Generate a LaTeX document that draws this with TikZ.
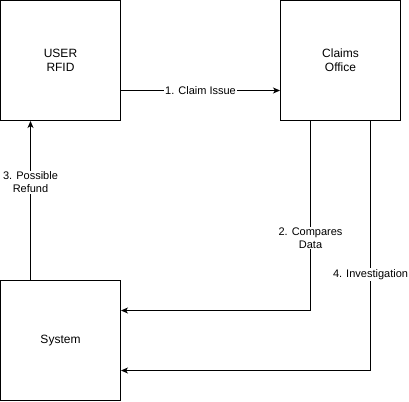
\documentclass[tikz,border=0pt]{standalone}
\usepackage{fontspec}
\setmainfont{Liberation Sans}
\usetikzlibrary{arrows.meta}
\begin{document}
\begin{tikzpicture}[x=1pt,y=-1pt,
  box/.style={draw=black,line width=1pt,minimum width=120pt,minimum height=120pt,inner sep=0pt,align=center,font=\fontsize{12}{14}\selectfont},
  conn/.style={draw=black,line width=1pt,-{Stealth[length=7pt,width=6pt,inset=2pt]}},
  lbl/.style={fill=white,inner sep=1pt,align=center,font=\fontsize{11}{12.5}\selectfont}]
\useasboundingbox (0,0) rectangle (409,401);
\node[box] (user) at (60.5,60.5) {USER\\RFID};
\node[box] (claims) at (340.5,60.5) {Claims\\Office};
\node[box] (system) at (60.5,340.5) {System};
\coordinate (h1) at (0,90.5);
\coordinate (v3) at (30.5,0);
\coordinate (c2) at (310.5,310.5);
\coordinate (c4) at (370.5,370.5);
\draw[conn] (user.east |- h1) -- node[lbl] {1. Claim Issue} (claims.west |- h1);
\draw[conn] (claims.south -| c2) -- node[lbl,pos=0.618] {2. Compares\\Data} (c2) -- (system.east |- c2);
\draw[conn] (claims.south -| c4) -- node[lbl,pos=0.615] {4. Investigation} (c4) -- (system.east |- c4);
\draw[conn] (system.north -| v3) -- node[lbl,pos=0.615] {3. Possible\\Refund} (user.south -| v3);
\end{tikzpicture}
\end{document}
